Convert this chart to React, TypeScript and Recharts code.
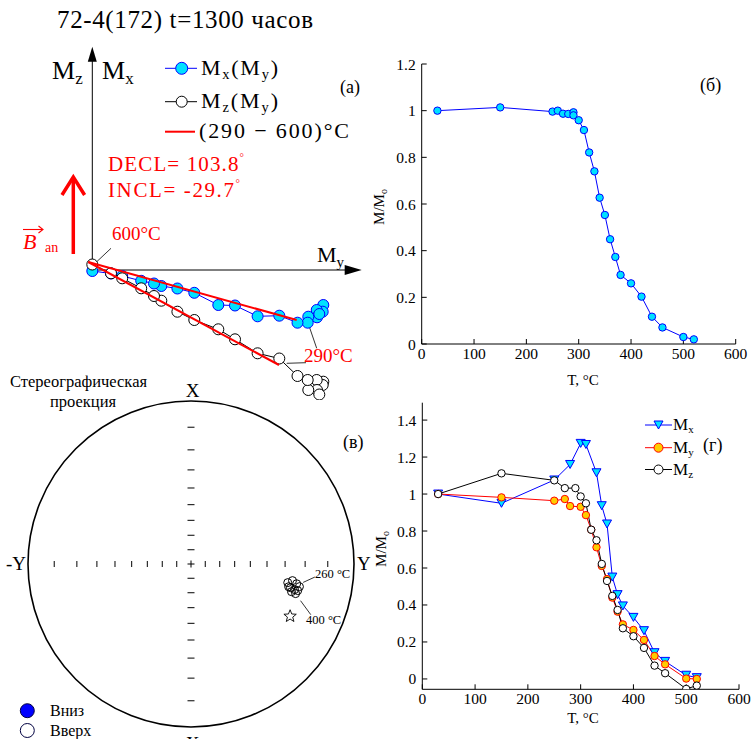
import React from "react";
import {
  Line,
  LineChart,
  ReferenceDot,
  ReferenceLine,
  Scatter,
  ScatterChart,
  XAxis,
  YAxis,
} from "recharts";

const SERIF = "'Liberation Serif', 'Times New Roman', serif";
const BLUE = "#0000ff";
const CYAN = "#00e1ff";
const RED = "#ff0000";
const YELLOW = "#ffcc00";

// (а) Zijderveld diagram, steps from room temperature (far end) down to 600°C (origin)
const zijMy = [2.31, 2.304, 2.244, 2.247, 2.27, 2.16, 2.154, 2.052, 1.87, 1.653, 1.427, 1.26, 1.02, 0.851, 0.69, 0.617, 0.489, 0.299, 0.187, 0.0];
const zijMx = [-0.35, -0.417, -0.4, -0.473, -0.44, -0.467, -0.527, -0.527, -0.457, -0.463, -0.355, -0.35, -0.228, -0.185, -0.16, -0.135, -0.108, -0.06, -0.035, -0.01];
const zijMz = [-1.117, -1.15, -1.1, -1.2, -1.245, -1.2, -1.1, -1.06, -0.885, -0.833, -0.693, -0.593, -0.5, -0.417, -0.307, -0.26, -0.183, -0.083, -0.033, 0.055];
// PCA fits (290 - 600)°C
const fitMy1 = [-0.04, 2.044];
const fitMx = [0.08, -0.5];
const fitMy2 = [-0.04, 1.867];
const fitMz = [0.08, -0.95];

// (б) total moment
const tempB = [30, 150, 250, 260, 270, 280, 290, 290, 300, 310, 320, 330, 340, 350, 360, 370, 380, 400, 420, 440, 460, 500, 520];
const momB = [1.0, 1.014, 0.996, 1.0, 0.987, 0.986, 0.993, 0.98, 0.959, 0.917, 0.821, 0.74, 0.627, 0.553, 0.449, 0.373, 0.296, 0.26, 0.203, 0.117, 0.071, 0.03, 0.02];

// (г) components
const tempMx = [30, 150, 250, 280, 300, 310, 330, 340, 350, 360, 370, 380, 400, 420, 440, 460, 500, 520];
const valMx = [1.0, 0.95, 1.076, 1.16, 1.274, 1.268, 1.115, 0.937, 0.838, 0.551, 0.456, 0.395, 0.333, 0.261, 0.142, 0.095, 0.02, 0.007];
const tempMy = [30, 150, 250, 270, 280, 300, 310, 320, 330, 340, 350, 360, 370, 380, 400, 420, 440, 460, 500, 520];
const valMy = [1.0, 0.982, 0.964, 0.973, 0.935, 0.931, 0.886, 0.807, 0.712, 0.611, 0.54, 0.44, 0.364, 0.295, 0.265, 0.211, 0.124, 0.079, 0.002, 0.0];
const tempMz = [30, 150, 250, 270, 290, 300, 310, 320, 330, 340, 350, 360, 370, 380, 400, 420, 440, 460, 500, 520];
const valMz = [1.0, 1.112, 1.074, 1.032, 1.032, 0.987, 0.95, 0.807, 0.75, 0.622, 0.53, 0.449, 0.373, 0.274, 0.231, 0.168, 0.072, 0.031, -0.054, -0.036];

// (в) stereographic projection, step directions (upper hemisphere)
const stepDec = [100.9, 99.3, 100.6, 101.8, 103.4, 103.9, 104.0, 105.4, 105.8, 103.1];
const stepInc = [-27.7, -25.5, -23.2, -21.6, -25.8, -23.6, -22.0, -24.8, -22.6, -26.8];
const starDec = [117.8];
const starInc = [-21];
const stereoTickInc = [10, 20, 30, 40, 50, 60, 70, 80];

const tempTicks = [0, 100, 200, 300, 400, 500, 600];
const ticksB = [0, 0.2, 0.4, 0.6, 0.8, 1, 1.2];
const ticksG = [0, 0.2, 0.4, 0.6, 0.8, 1, 1.2, 1.4];

const rad = (d: number) => (d * Math.PI) / 180;
const stereo = (dec: number, inc: number) => {
  const r = Math.tan(rad((90 - Math.abs(inc)) / 2));
  return { x: r * Math.sin(rad(dec)), y: r * Math.cos(rad(dec)) };
};

const zijX = zijMy.map((h, i) => ({ h, v: zijMx[i] }));
const zijZ = zijMy.map((h, i) => ({ h, v: zijMz[i] }));
const fitX = fitMy1.map((h, i) => ({ h, v: fitMx[i] }));
const fitZ = fitMy2.map((h, i) => ({ h, v: fitMz[i] }));

const dataB = tempB.map((t, i) => ({ t, m: momB[i] }));
const dataMx = tempMx.map((t, i) => ({ t, m: valMx[i] }));
const dataMy = tempMy.map((t, i) => ({ t, m: valMy[i] }));
const dataMz = tempMz.map((t, i) => ({ t, m: valMz[i] }));

const stepPts = stepDec.map((d, i) => stereo(d, stepInc[i]));
const starPts = starDec.map((d, i) => stereo(d, starInc[i]));
const tickR = stereoTickInc.map((i) => Math.tan(rad((90 - i) / 2)));
const hTicks = tickR.flatMap((r) => [{ x: r, y: 0 }, { x: -r, y: 0 }]);
const vTicks = tickR.flatMap((r) => [{ x: 0, y: r }, { x: 0, y: -r }]);

const circleShape = (r: number, fill: string, stroke: string) => (p: any) =>
  <circle cx={p.cx} cy={p.cy} r={r} fill={fill} stroke={stroke} strokeWidth={1} />;

const triDown = (p: any) => (
  <polygon
    points={`${p.cx - 4.5},${p.cy - 4} ${p.cx + 4.5},${p.cy - 4} ${p.cx},${p.cy + 4}`}
    fill={CYAN}
    stroke={BLUE}
    strokeWidth={1}
  />
);

const starShape = (p: any) => {
  const pts: string[] = [];
  for (let k = 0; k < 10; k++) {
    const a = rad(-90 + k * 36);
    const r = k % 2 === 0 ? 6.5 : 2.8;
    pts.push(`${p.cx + r * Math.cos(a)},${p.cy + r * Math.sin(a)}`);
  }
  return <polygon points={pts.join(" ")} fill="#fff" stroke="#000" strokeWidth={0.9} />;
};

const axisTick = { fontSize: 15.5, fill: "#000", fontFamily: SERIF };

function TempChart({
  yDomain,
  yTicks,
  plotH,
  xAxisH,
  marginTop,
  marginRight,
  yAxisW,
  children,
}: any) {
  return (
    <LineChart
      width={392}
      height={marginTop + plotH + xAxisH}
      margin={{ top: marginTop, right: marginRight, bottom: 0, left: 0 }}
      style={{ fontFamily: SERIF }}
    >
      <XAxis
        type="number"
        dataKey="t"
        domain={[0, 600]}
        ticks={tempTicks}
        allowDataOverflow
        height={xAxisH}
        tickSize={-5}
        tickMargin={9}
        stroke="#000"
        tick={axisTick}
      />
      <XAxis
        xAxisId="top"
        orientation="top"
        type="number"
        dataKey="t"
        domain={[0, 600]}
        ticks={tempTicks}
        allowDataOverflow
        height={0}
        tickSize={-5}
        tick={false}
        stroke="#000"
      />
      <YAxis
        type="number"
        domain={yDomain}
        ticks={yTicks}
        allowDataOverflow
        width={yAxisW}
        tickSize={-5}
        tickMargin={11}
        stroke="#000"
        tick={axisTick}
      />
      <YAxis
        yAxisId="right"
        orientation="right"
        type="number"
        domain={yDomain}
        ticks={yTicks}
        allowDataOverflow
        width={0}
        tickSize={-5}
        tick={false}
        stroke="#000"
      />
      {children}
    </LineChart>
  );
}

export default function App() {
  return (
    <div style={{ position: "absolute", left: 0, top: 0, width: 752, height: 739, background: "#fff", fontFamily: SERIF }}>
      {/* (а) Zijderveld */}
      <div style={{ position: "absolute", left: 0, top: 0 }}>
        <ScatterChart width={370} height={400} margin={{ top: 0, right: 0, bottom: 0, left: 0 }}>
          <XAxis type="number" dataKey="h" domain={[-0.923, 2.777]} hide allowDataOverflow />
          <YAxis type="number" dataKey="v" domain={[-1.3, 2.7]} hide allowDataOverflow />
          <ReferenceLine segment={[{ x: 0, y: 0 }, { x: 2.6, y: 0 }]} stroke="#000" strokeWidth={1} />
          <ReferenceLine segment={[{ x: 0, y: 0 }, { x: 0, y: 2.1 }]} stroke="#000" strokeWidth={1} />
          <ReferenceDot
            x={2.694}
            y={0}
            r={1}
            shape={(p: any) => (
              <polygon points={`${p.cx},${p.cy} ${p.cx - 17},${p.cy - 5} ${p.cx - 17},${p.cy + 5}`} fill="#000" />
            )}
          />
          <ReferenceDot
            x={0}
            y={2.233}
            r={1}
            shape={(p: any) => (
              <polygon points={`${p.cx},${p.cy} ${p.cx - 4.5},${p.cy + 15} ${p.cx + 4.5},${p.cy + 15}`} fill="#000" />
            )}
          />
          <ReferenceLine segment={[{ x: 0.02, y: 0.06 }, { x: 0.187, y: 0.217 }]} stroke="#000" strokeWidth={0.8} />
          <ReferenceLine segment={[{ x: 2.17, y: -0.567 }, { x: 2.244, y: -0.783 }]} stroke="#000" strokeWidth={0.8} />
          <ReferenceLine segment={[{ x: 1.944, y: -0.933 }, { x: 2.137, y: -0.927 }]} stroke="#000" strokeWidth={0.8} />
          <Scatter
            data={zijX}
            line={{ stroke: BLUE, strokeWidth: 1 }}
            shape={circleShape(5.5, CYAN, BLUE)}
            isAnimationActive={false}
          />
          <Scatter
            data={zijZ}
            line={{ stroke: "#000", strokeWidth: 1 }}
            shape={circleShape(5.5, "#fff", "#000")}
            isAnimationActive={false}
          />
          <Scatter data={fitX} line={{ stroke: RED, strokeWidth: 2 }} shape={() => <g />} isAnimationActive={false} />
          <Scatter data={fitZ} line={{ stroke: RED, strokeWidth: 2 }} shape={() => <g />} isAnimationActive={false} />
        </ScatterChart>
      </div>

      {/* (б) M/Mo vs T */}
      <div style={{ position: "absolute", left: 360, top: 50 }}>
        <TempChart yDomain={[0, 1.2]} yTicks={ticksB} plotH={280} xAxisH={46} marginTop={14} marginRight={16.3} yAxisW={61.7}>
          <Line
            data={dataB}
            dataKey="m"
            stroke={BLUE}
            strokeWidth={1}
            dot={circleShape(3.7, CYAN, BLUE)}
            isAnimationActive={false}
          />
        </TempChart>
      </div>

      {/* (г) components vs T */}
      <div style={{ position: "absolute", left: 360, top: 390 }}>
        <TempChart yDomain={[-0.056, 1.494]} yTicks={ticksG} plotH={286.6} xAxisH={49.7} marginTop={12.7} marginRight={13} yAxisW={62.3}>
          <Line data={dataMx} dataKey="m" stroke={BLUE} strokeWidth={1} dot={triDown} isAnimationActive={false} />
          <Line data={dataMy} dataKey="m" stroke={RED} strokeWidth={1} dot={circleShape(3.7, YELLOW, RED)} isAnimationActive={false} />
          <Line data={dataMz} dataKey="m" stroke="#000" strokeWidth={1} dot={circleShape(3.7, "#fff", "#000")} isAnimationActive={false} />
        </TempChart>
      </div>

      {/* (в) stereographic projection */}
      <div style={{ position: "absolute", left: 18.2, top: 391.3 }}>
        <ScatterChart width={346} height={346} margin={{ top: 10, right: 10, bottom: 10, left: 10 }}>
          <XAxis type="number" dataKey="x" domain={[-1, 1]} hide allowDataOverflow />
          <YAxis type="number" dataKey="y" domain={[-1, 1]} hide allowDataOverflow />
          <ReferenceDot x={0} y={0} r={163} fill="none" stroke="#000" strokeWidth={1.6} />
          <Scatter
            data={hTicks}
            shape={(p: any) => <line x1={p.cx} x2={p.cx} y1={p.cy - 3} y2={p.cy + 3} stroke="#000" strokeWidth={1} />}
            isAnimationActive={false}
          />
          <Scatter
            data={vTicks}
            shape={(p: any) => <line x1={p.cx - 3.5} x2={p.cx + 3.5} y1={p.cy} y2={p.cy} stroke="#000" strokeWidth={1} />}
            isAnimationActive={false}
          />
          <Scatter
            data={[{ x: 0, y: 0 }]}
            shape={(p: any) => (
              <path d={`M${p.cx - 3.5},${p.cy}H${p.cx + 3.5}M${p.cx},${p.cy - 3.5}V${p.cy + 3.5}`} stroke="#000" strokeWidth={1} />
            )}
            isAnimationActive={false}
          />
          <ReferenceLine segment={[{ x: 0.688, y: -0.113 }, { x: 0.76, y: -0.08 }]} stroke="#000" strokeWidth={0.8} />
          <ReferenceLine segment={[{ x: 0.672, y: -0.225 }, { x: 0.735, y: -0.311 }]} stroke="#000" strokeWidth={0.8} />
          <Scatter data={stepPts} shape={circleShape(4, "none", "#000")} isAnimationActive={false} />
          <Scatter data={starPts} shape={starShape} isAnimationActive={false} />
        </ScatterChart>
      </div>

      {/* texts, legends and annotations */}
      <svg
        width={752}
        height={739}
        style={{ position: "absolute", left: 0, top: 0, pointerEvents: "none", fontFamily: SERIF }}
      >
        <text x={57} y={28} fontSize={25} textLength={256}>72-4(172) t=1300 часов</text>

        <text x={52} y={79} fontSize={26}>
          M<tspan fontSize={17} dy={5}>z</tspan>
        </text>
        <text x={102} y={79} fontSize={26}>
          M<tspan fontSize={17} dy={5}>x</tspan>
        </text>
        <text x={317} y={262} fontSize={22}>
          M<tspan fontSize={15} dy={5}>y</tspan>
        </text>

        {/* legend (а) */}
        <line x1={165} x2={197} y1={68.3} y2={68.3} stroke={BLUE} />
        <circle cx={181.7} cy={68.3} r={6} fill={CYAN} stroke={BLUE} />
        <text x={201} y={75} fontSize={22} textLength={77}>
          M<tspan fontSize={14.5} dy={4}>x</tspan>
          <tspan dy={-4}>(M</tspan>
          <tspan fontSize={14.5} dy={4}>y</tspan>
          <tspan dy={-4}>)</tspan>
        </text>
        <line x1={165} x2={197} y1={101.7} y2={101.7} stroke="#000" />
        <circle cx={181.7} cy={101.7} r={5.5} fill="#fff" stroke="#000" />
        <text x={201} y={108.3} fontSize={22} textLength={77}>
          M<tspan fontSize={14.5} dy={4}>z</tspan>
          <tspan dy={-4}>(M</tspan>
          <tspan fontSize={14.5} dy={4}>y</tspan>
          <tspan dy={-4}>)</tspan>
        </text>
        <line x1={165} x2={195} y1={131.7} y2={131.7} stroke={RED} strokeWidth={2} />
        <text x={199} y={138} fontSize={22} textLength={150}>(290 − 600)°C</text>
        <text x={340} y={93} fontSize={18}>(а)</text>

        <text x={108} y={171} fontSize={21} fill={RED} textLength={136}>
          DECL= 103.8<tspan fontSize={11} dy={-10}>°</tspan>
        </text>
        <text x={108} y={197} fontSize={21} fill={RED} textLength={132}>
          INCL= -29.7<tspan fontSize={11} dy={-10}>°</tspan>
        </text>
        <text x={112} y={240} fontSize={19} fill={RED}>600°C</text>
        <text x={304} y={362} fontSize={19} fill={RED}>290°C</text>

        {/* B_an arrow */}
        <line x1={73.3} y1={254} x2={73.3} y2={178} stroke={RED} strokeWidth={3.5} />
        <polyline points="62,195 73.3,177 84.6,195" fill="none" stroke={RED} strokeWidth={3.5} />
        <text x={23} y={249} fontSize={22} fontStyle="italic" fill={RED}>B</text>
        <text x={45} y={252} fontSize={14} fill={RED}>an</text>
        <line x1={23} y1={229.5} x2={42.5} y2={229.5} stroke={RED} strokeWidth={1.1} />
        <polyline points="38.5,226 43,229.5 38.5,233" fill="none" stroke={RED} strokeWidth={1.1} />

        {/* (б) */}
        <text x={700} y={91} fontSize={18}>(б)</text>
        <text transform="translate(384,207) rotate(-90)" textAnchor="middle" fontSize={15}>
          M/M<tspan fontSize={10} dy={3}>o</tspan>
        </text>
        <text x={583} y={385} textAnchor="middle" fontSize={15}>T, °C</text>

        {/* (г) */}
        <text transform="translate(386,549) rotate(-90)" textAnchor="middle" fontSize={15}>
          M/M<tspan fontSize={10} dy={3}>o</tspan>
        </text>
        <text x={583} y={723} textAnchor="middle" fontSize={15}>T, °C</text>
        <line x1={645} x2={672} y1={425} y2={425} stroke={BLUE} />
        <polygon points="654,421 663,421 658.5,429" fill={CYAN} stroke={BLUE} />
        <text x={673} y={430} fontSize={17}>
          M<tspan fontSize={11} dy={3}>x</tspan>
        </text>
        <line x1={645} x2={672} y1={447.7} y2={447.7} stroke={RED} />
        <circle cx={658.5} cy={447.7} r={4.5} fill={YELLOW} stroke={RED} />
        <text x={673} y={452.7} fontSize={17}>
          M<tspan fontSize={11} dy={3}>y</tspan>
        </text>
        <text x={703} y={451} fontSize={18}>(г)</text>
        <line x1={645} x2={672} y1={469.5} y2={469.5} stroke="#000" />
        <circle cx={658.5} cy={469.5} r={4.5} fill="#fff" stroke="#000" />
        <text x={673} y={474.5} fontSize={17}>
          M<tspan fontSize={11} dy={3}>z</tspan>
        </text>

        {/* (в) */}
        <text x={10} y={387} fontSize={16.5}>Стереографическая</text>
        <text x={50} y={407} fontSize={16.5}>проекция</text>
        <text x={192.7} y={397} textAnchor="middle" fontSize={19}>X</text>
        <text x={192.7} y={750} textAnchor="middle" fontSize={19}>X</text>
        <text x={6} y={570} fontSize={19}>-Y</text>
        <text x={357} y={570} fontSize={19}>Y</text>
        <text x={343} y={448} fontSize={18}>(в)</text>
        <text x={315} y={578} fontSize={12.5}>260 °C</text>
        <text x={306} y={624} fontSize={12.5}>400 °C</text>
        <circle cx={27.3} cy={710.7} r={7} fill={BLUE} stroke="#000040" />
        <text x={50} y={716} fontSize={16}>Вниз</text>
        <circle cx={27.3} cy={730.5} r={7} fill="#fff" stroke="#000040" />
        <text x={50} y={736} fontSize={16}>Вверх</text>
      </svg>
    </div>
  );
}
